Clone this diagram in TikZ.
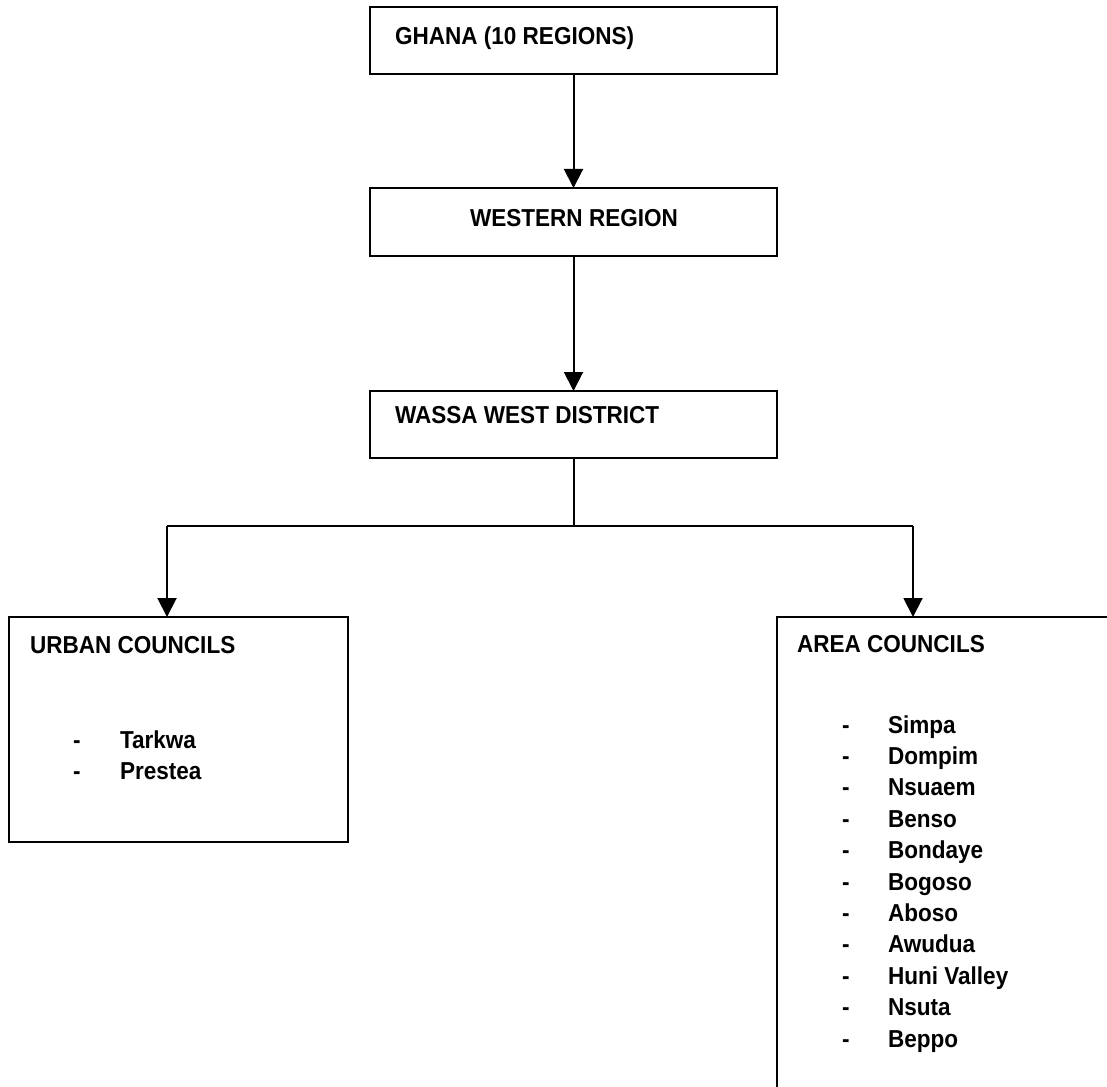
\documentclass[tikz,border=0pt]{standalone}
\usepackage{fontspec}
\setmainfont{Liberation Sans}[FakeStretch=0.92]
\usetikzlibrary{arrows.meta}
\begin{document}
\begin{tikzpicture}[x=1pt,y=-1pt,
  box/.style={draw=black,line width=2pt,rectangle,anchor=north west,inner sep=0pt,outer sep=0pt},
  lbl/.style={inner sep=0pt,outer sep=0pt,anchor=base west,font=\fontsize{24.5}{29}\selectfont\bfseries},
  clbl/.style={lbl,anchor=base},
  conn/.style={line width=2pt},
  arr/.style={conn,-{Triangle[length=19pt,width=19pt]}}]
\useasboundingbox (0,0) rectangle (1107,1086);
\clip (0,0) rectangle (1107,1086);
% boxes
\node[box,minimum width=407pt,minimum height=67pt] (ghana) at (370,7) {};
\node[box,minimum width=407pt,minimum height=68pt] (western) at (370,188) {};
\node[box,minimum width=407pt,minimum height=67pt] (wassa) at (370,391) {};
\node[box,minimum width=339pt,minimum height=225pt] (urban) at (9,617) {};
\node[box,minimum width=400pt,minimum height=520pt] (area) at (777,617) {};
% labels
\node[lbl] (tghana) at (395,45) {GHANA (10 REGIONS)};
\node[clbl] (twestern) at (574,226) {WESTERN REGION};
\node[lbl] (twassa) at (395,423) {WASSA WEST DISTRICT};
\node[lbl] (turban) at (30,653) {URBAN COUNCILS};
\node[lbl] (du1) at (73,748) {-};
\node[lbl] (tu1) at (120,748) {Tarkwa};
\node[lbl] (du2) at (73,779) {-};
\node[lbl] (tu2) at (120,779) {Prestea};
\node[lbl] (tarea) at (797,652) {AREA COUNCILS};
\foreach \t [count=\i from 0] in {Simpa,Dompim,Nsuaem,Benso,Bondaye,Bogoso,Aboso,Awudua,Huni Valley,Nsuta,Beppo}{
  \node[lbl] (da\i) at (842,733+\i*31.4) {-};
  \node[lbl] (ta\i) at (888,733+\i*31.4) {\t};
}
% connectors
\coordinate (jl) at (167,526);
\coordinate (jr) at (913,526);
\coordinate (j) at (wassa.south |- jl);
\draw[arr] (ghana.south) -- (western.north);
\draw[arr] (western.south) -- (wassa.north);
\draw[conn] (wassa.south) -- (j);
\draw[conn] (jl) -- (jr);
\draw[arr] (jl) -- (jl |- urban.north);
\draw[arr] (jr) -- (jr |- area.north);
\end{tikzpicture}
\end{document}
